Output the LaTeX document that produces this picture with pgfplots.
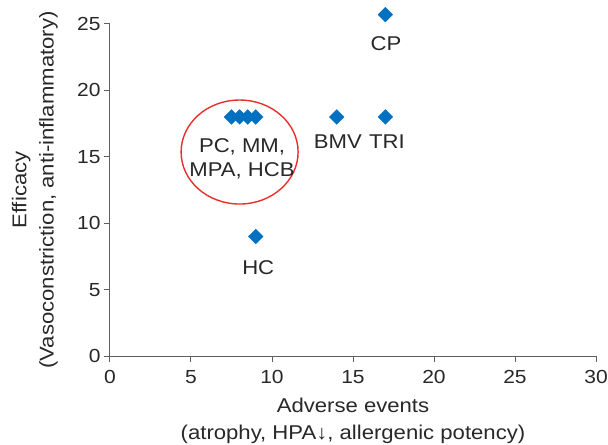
\documentclass[border=0pt]{standalone}
\usepackage{fontspec}
\setmainfont{Liberation Sans}[FakeStretch=1.11]
\usepackage{pgfplots}
\pgfplotsset{compat=1.18}
\definecolor{ptblue}{RGB}{0,112,192}
\definecolor{ringred}{RGB}{232,48,42}
\definecolor{axgray}{RGB}{95,95,95}
\definecolor{txt}{RGB}{40,40,40}

\begin{document}
\begin{tikzpicture}
\begin{axis}[
  scale only axis, width=486bp, height=332bp,
  xmin=0, xmax=30, ymin=0, ymax=25,
  axis lines=left,
  axis line style={-, axgray, line width=1bp},
  xtick={0,5,...,30}, ytick={0,5,...,25},
  tick align=outside, major tick length=6bp,
  tick style={axgray, line width=1bp},
  font=\fontsize{20}{27.5}\selectfont,
  /pgf/number format/assume math mode=true,
  ticklabel style={text=txt},
  yticklabel style={font=\fontsize{19}{22}\selectfont},
  xticklabel style={yshift=-5bp, font=\fontsize{19}{22}\selectfont},
  xlabel={Adverse events\\(atrophy, HPA↓, allergenic potency)},
  xlabel style={align=center, text=txt, inner sep=0pt,
    at={(axis description cs:0.5,-0.125)}, anchor=north},
  ylabel={Efficacy\\(Vasoconstriction, anti-inflammatory)},
  ylabel style={align=center, text=txt, inner sep=0pt,
    at={(axis description cs:-0.107,0.5)}, anchor=south},
  clip=false,
]
\addplot[only marks, mark=square*, mark size=5.2bp,
  mark options={rotate=45, fill=ptblue, draw=ptblue}]
  coordinates {(7.5,18) (8,18) (8.5,18) (9,18) (9,9) (14,18) (17,18) (17,25.7)};

\draw[ringred, line width=1.4bp] (axis cs:8.0,15.36) ellipse [x radius=58.5bp, y radius=52bp];

\node[text=txt, anchor=base] at (axis cs:17.04,23.04) {CP};
\node[text=txt, anchor=base] at (axis cs:14.07,15.66) {BMV};
\node[text=txt, anchor=base] at (axis cs:17.1,15.66) {TRI};
\node[text=txt, anchor=base] at (axis cs:9.15,6.17) {HC};
\node[text=txt, anchor=base] at (axis cs:8.15,15.36) {PC, MM,};
\node[text=txt, anchor=base] at (axis cs:8.15,13.48) {MPA, HCB};
\end{axis}
\pgfresetboundingbox
\useasboundingbox ([xshift=-110bp,yshift=-89bp]current axis.south west)
  rectangle ([xshift=12bp,yshift=24bp]current axis.north east);
\end{tikzpicture}
\end{document}
